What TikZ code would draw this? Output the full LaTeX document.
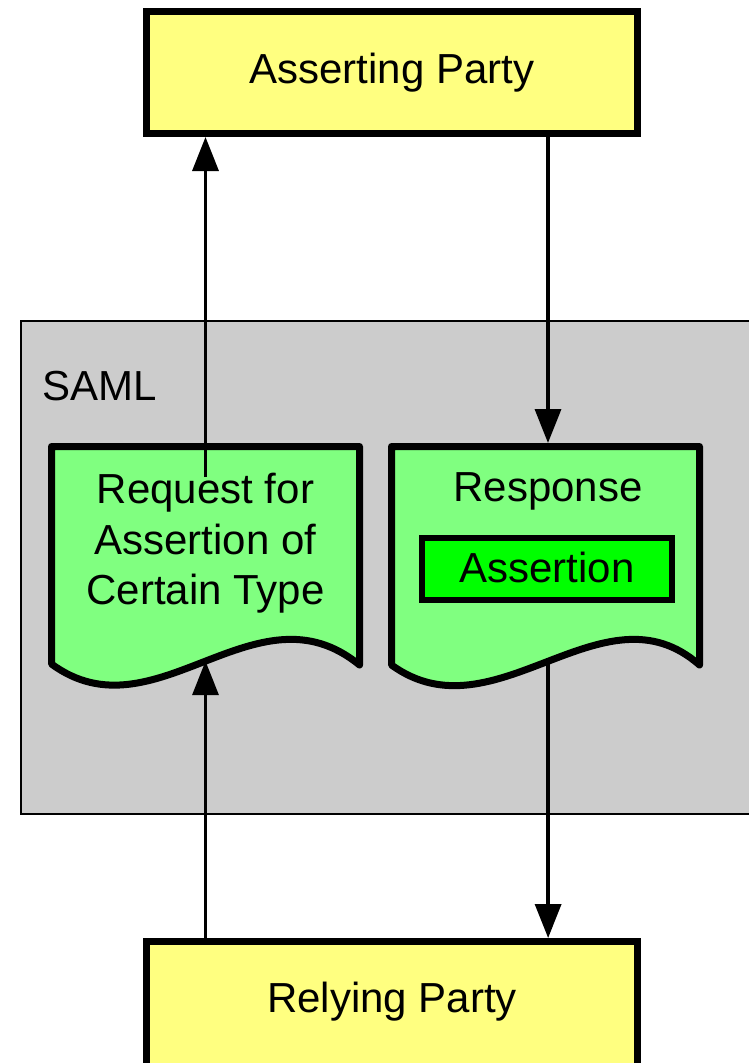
\documentclass[tikz,border=0pt]{standalone}
\usepackage{fontspec}
\setmainfont{Liberation Sans}
\usetikzlibrary{arrows.meta,calc}

\definecolor{partyfill}{HTML}{FFFF80}
\definecolor{docfill}{HTML}{80FF80}
\definecolor{assertfill}{HTML}{00FF00}
\definecolor{samlfill}{HTML}{CCCCCC}

\tikzset{
  txt/.style={font=\fontsize{42}{50.5}\selectfont, inner sep=0pt, align=center},
  party/.style={draw=black, line width=7pt, fill=partyfill, rectangle,
    minimum width=491pt, inner sep=0pt},
  docshape/.style={draw=black, line width=7pt, fill=docfill, line join=round},
  assertbox/.style={draw=black, line width=6pt, fill=assertfill, rectangle,
    minimum width=250pt, minimum height=62pt, inner sep=0pt},
  samlbox/.style={draw=black, line width=2.5pt, fill=samlfill, rectangle,
    inner sep=0pt},
  flow/.style={line width=3.5pt, -{Triangle[length=34pt,width=26pt]}},
}

\begin{document}
\begin{tikzpicture}[x=1pt, y=-1pt]
  \useasboundingbox (0,0) rectangle (749,1063);
  \clip (0,0) rectangle (749,1063);

  % SAML container (runs past the right edge)
  \node[samlbox, minimum width=740pt, minimum height=493pt] (saml) at (391,567.5) {};
  \node[txt, anchor=west] (samltitle) at (42,386) {SAML};

  % Parties
  \node[party, minimum height=122pt] (asserting) at (392,72.5) {};
  \node[txt] (assertingtext) at (392,72.5) {Asserting Party};
  \node[party, minimum height=138.5pt] (relying) at (392,1010.75) {};
  \node[txt] (relyingtext) at (392,1002) {Relying Party};

  % Request document
  \draw[docshape] (51.5,446.5) -- (359.5,446.5) -- (359.5,665)
    .. controls (256,580) and (155,740) .. (51.5,664)
    -- cycle;
  \path (359.5,665) .. controls (256,580) and (155,740) .. (51.5,664)
    coordinate[pos=0.5] (reqbottom);
  \coordinate (reqtop) at (205.5,477);
  \node[txt] (reqtext) at (205.5,543.5) {Request for\\Assertion of\\Certain Type};

  % Response document
  \draw[docshape] (391.5,446.5) -- (699.5,446.5) -- (699.5,665)
    .. controls (603,580) and (495,740) .. (391.5,665)
    -- cycle;
  \path (699.5,665) .. controls (603,580) and (495,740) .. (391.5,665)
    coordinate[pos=0.5] (respbottom);
  \coordinate (resptop) at (548,443);
  \node[txt] (resptext) at (548,491) {Response};
  \node[assertbox] (assertion) at (547,569) {};
  \node[txt] (assertiontext) at (547,567) {Assertion};

  % Message flow
  \draw[flow] (reqtop) -- (reqtop |- asserting.south);
  \draw[flow] (resptop |- asserting.south) -- (resptop);
  \draw[flow] (respbottom) -- (respbottom |- relying.north);
  \draw[flow] (reqbottom |- relying.north) -- (reqbottom);
\end{tikzpicture}
\end{document}
